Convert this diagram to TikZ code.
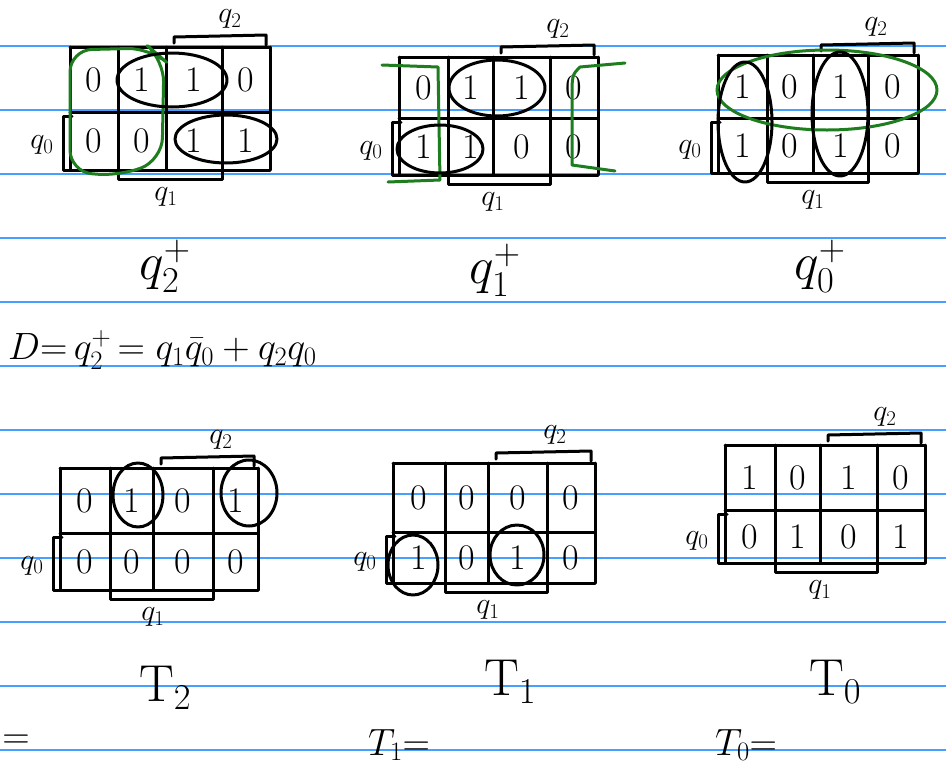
\RequirePackage{fix-cm}
\documentclass[tikz,border=0pt]{standalone}
\usetikzlibrary{calc}
\definecolor{ruleblue}{RGB}{70,160,255}
\definecolor{pengreen}{RGB}{30,125,30}
\tikzset{
  ink/.style={line width=3pt,line cap=round,line join=round,black},
  gink/.style={line width=3pt,line cap=round,line join=round,pengreen},
  val/.style={font=\fontsize{36}{36}\selectfont,inner sep=0pt},
  axl/.style={font=\fontsize{30}{30}\selectfont,inner sep=0pt},
  big/.style={font=\fontsize{52}{52}\selectfont,inner sep=0pt},
  eqtext/.style={font=\fontsize{38}{38}\selectfont,inner sep=0pt,anchor=west},
}
% #1 name, #2..#6 column x, #7 top y, #8 mid y, #9 bottom y
\newcommand\kmap[9]{%
  \draw[ink] (#2,#7) -- (#6,#7) (#2,#8) -- (#6,#8) (#2,#9) -- (#6,#9);
  \foreach \xx in {#2,#3,#4,#5,#6} {\draw[ink] (\xx,#7) -- (\xx,#9);}
  \coordinate (#1-cx0) at ({(#2+#3)/2},0);
  \coordinate (#1-cx1) at ({(#3+#4)/2},0);
  \coordinate (#1-cx2) at ({(#4+#5)/2},0);
  \coordinate (#1-cx3) at ({(#5+#6)/2},0);
  \coordinate (#1-cy1) at (0,{(#7+#8)/2});
  \coordinate (#1-cy2) at (0,{(#8+#9)/2});
  \draw[ink] ({#4+8},{#7-4}) -- ({#4+8},{#7-10}) -- ({#6-4},{#7-12}) -- ({#6-4},{#7-2});
  \draw[ink] (#3,{#9-2}) -- (#3,{#9+9}) -- (#5,{#9+9}) -- (#5,{#9-2});
  \draw[ink] ({#2+2},{#8+4}) -- ({#2-7},{#8+4}) -- ({#2-7},{#9}) -- ({#2+2},{#9});
  \node[axl] (#1-q2) at ({#5+8},{#7-28}) {$q_2$};
  \node[axl] (#1-q1) at ({#4},{#9+27}) {$q_1$};
  \node[axl] (#1-q0) at ({#2-28},{(#8+#9)/2+4}) {$q_0$};
}
\newcommand\kvals[3]{%
  \foreach \v [count=\i from 0] in {#2} {\node[val] (#1-a\i) at (#1-cx\i |- #1-cy1) {\v};}
  \foreach \v [count=\i from 0] in {#3} {\node[val] (#1-b\i) at (#1-cx\i |- #1-cy2) {\v};}
}
\begin{document}
\begin{tikzpicture}[x=1pt,y=-1pt]
\useasboundingbox (0,0) rectangle (946,780);
\fill[white] (0,0) rectangle (946,780);
\foreach \yy in {46,110,...,750} {\draw[ruleblue,line width=1.2pt] (0,\yy) -- (946,\yy);}

% ---- q2+ map
\kmap{ka}{70}{118}{166}{222}{270}{47}{112}{170}
\kvals{ka}{0,1,1,0}{0,0,1,1}
\draw[gink,rounded corners=22pt] (70,50) -- (150,48) -- (164,60) -- (162,160) -- (120,176) -- (70,172) -- cycle;
\draw[ink] (172,80) ellipse [x radius=55,y radius=27];
\draw[ink] (226,139) ellipse [x radius=51,y radius=24];
\node[big] (la) at (165,266) {$q_2^{+}$};

% ---- q1+ map
\kmap{kb}{399}{448}{493}{550}{598}{57}{118}{175}
\kvals{kb}{0,1,1,0}{1,1,0,0}
\draw[gink] (382,65) -- (438,67) -- (440,180) -- (388,182);
\draw[gink] (625,63) -- (580,67) .. controls (572,75) .. (572,100) -- (572,165) -- (615,171);
\draw[ink] (497,88) ellipse [x radius=48,y radius=28];
\draw[ink] (440,149) ellipse [x radius=43,y radius=24];
\node[big] (lb) at (495,270) {$q_1^{+}$};

% ---- q0+ map
\kmap{kc}{718}{767}{813}{868}{918}{55}{118}{173}
\kvals{kc}{1,0,1,0}{1,0,1,0}
\draw[gink] (827,90) ellipse [x radius=110,y radius=40];
\draw[ink] (745,122) ellipse [x radius=27,y radius=60];
\draw[ink] (840,114) ellipse [x radius=28,y radius=62];
\node[big] (lc) at (820,266) {$q_0^{+}$};

% ---- equation
\node[eqtext] (eq) at (8,350)
  {$D{=}\,q_2^{+}\,{=}\;q_1\bar{q}_0+q_2q_0$};

% ---- T2 map
\kmap{kd}{60}{110}{153}{213}{258}{468}{533}{590}
\kvals{kd}{0,1,0,1}{0,0,0,0}
\draw[ink] (138,495) ellipse [x radius=25,y radius=32];
\draw[ink] (249,493) ellipse [x radius=28,y radius=33];
\node[big] (ld) at (165,688) {$\mathrm{T}_2$};
\node[font=\fontsize{38}{38}\selectfont,inner sep=0pt] (ed) at (16,742) {$=$};

% ---- T1 map
\kmap{ke}{393}{445}{488}{547}{595}{463}{532}{583}
\kvals{ke}{0,0,0,0}{1,0,1,0}
\draw[ink] (413,565) ellipse [x radius=25,y radius=30];
\draw[ink] (517,555) ellipse [x radius=27,y radius=30];
\node[big] (le) at (510,682) {$\mathrm{T}_1$};
\node[eqtext] (ee) at (368,745) {$T_1{=}$};

% ---- T0 map
\kmap{kf}{725}{775}{820}{877}{925}{445}{510}{563}
\kvals{kf}{1,0,1,0}{0,1,0,1}
\node[big] (lf) at (835,682) {$\mathrm{T}_0$};
\node[eqtext] (ef) at (715,745) {$T_0{=}$};
\end{tikzpicture}
\end{document}
